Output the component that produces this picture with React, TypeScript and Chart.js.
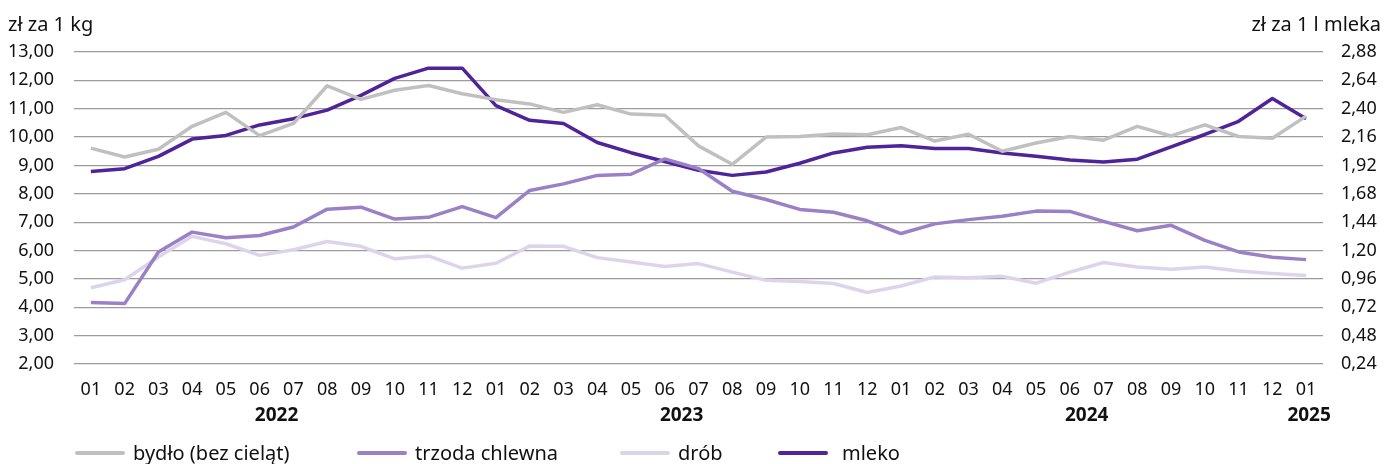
import React, { useEffect, useRef } from "react";
import { Chart, registerables } from "chart.js";

Chart.register(...registerables);

const months = [
  "01","02","03","04","05","06","07","08","09","10","11","12",
  "01","02","03","04","05","06","07","08","09","10","11","12",
  "01","02","03","04","05","06","07","08","09","10","11","12",
  "01",
];

const years = [
  { label: "2022", from: 5, to: 6 },
  { label: "2023", from: 17, to: 18 },
  { label: "2024", from: 29, to: 30 },
  { label: "2025", from: 36, to: 36 },
];

const bydlo = [
  9.61, 9.30, 9.57, 10.38, 10.87, 10.05, 10.48, 11.81, 11.33, 11.65, 11.82, 11.53,
  11.32, 11.17, 10.87, 11.14, 10.81, 10.77, 9.69, 9.04, 10.0, 10.02, 10.11, 10.08,
  10.34, 9.86, 10.10, 9.50, 9.79, 10.02, 9.89, 10.38, 10.04, 10.43, 10.02, 9.96,
  10.74,
];

const trzoda = [
  4.17, 4.13, 5.95, 6.65, 6.45, 6.53, 6.83, 7.46, 7.53, 7.11, 7.17, 7.55,
  7.16, 8.12, 8.35, 8.65, 8.69, 9.23, 8.89, 8.09, 7.80, 7.45, 7.35, 7.05,
  6.60, 6.94, 7.09, 7.21, 7.39, 7.38, 7.03, 6.70, 6.89, 6.36, 5.95, 5.76,
  5.68,
];

const drob = [
  4.69, 4.97, 5.77, 6.50, 6.24, 5.83, 6.03, 6.32, 6.15, 5.71, 5.81, 5.38,
  5.55, 6.16, 6.15, 5.75, 5.60, 5.44, 5.54, 5.24, 4.95, 4.91, 4.84, 4.52,
  4.75, 5.07, 5.04, 5.09, 4.85, 5.24, 5.58, 5.42, 5.34, 5.42, 5.28, 5.19,
  5.12,
];

const mleko = [
  1.869, 1.893, 1.997, 2.143, 2.174, 2.263, 2.316, 2.388, 2.513, 2.657, 2.743, 2.743,
  2.426, 2.302, 2.275, 2.114, 2.028, 1.954, 1.879, 1.836, 1.865, 1.939, 2.026, 2.074,
  2.086, 2.064, 2.064, 2.026, 1.997, 1.966, 1.949, 1.973, 2.078, 2.182, 2.294, 2.486,
  2.316,
];

const rightTicks = [0.24, 0.48, 0.72, 0.96, 1.2, 1.44, 1.68, 1.92, 2.16, 2.4, 2.64, 2.88];

const seriesNames = ["bydło (bez cieląt)", "trzoda chlewna", "drób", "mleko"];
const colors = ["#C0C0C0", "#9A80C6", "#DDD4EC", "#4F2399"];

const FONT = "'Noto Sans', sans-serif";

const yearPlugin = {
  id: "yearLabels",
  afterDraw(chart: any) {
    const x = chart.scales.x;
    const ctx = chart.ctx;
    ctx.save();
    ctx.font = "bold 19px " + FONT;
    ctx.fillStyle = "#111";
    ctx.textAlign = "center";
    ctx.textBaseline = "middle";
    years.forEach((y) => {
      const px = (x.getPixelForValue(y.from) + x.getPixelForValue(y.to)) / 2;
      ctx.fillText(y.label, px + (y.from === y.to ? 3 : 0), 416);
    });
    ctx.restore();
  },
};

export default function App() {
  const ref = useRef<HTMLCanvasElement>(null);

  useEffect(() => {
    const fmt = (v: any) => Number(v).toFixed(2).replace(".", ",");
    const chart = new Chart(ref.current!, {
      type: "line",
      data: {
        labels: months,
        datasets: [
          { label: seriesNames[0], data: bydlo, borderColor: colors[0], yAxisID: "y" },
          { label: seriesNames[1], data: trzoda, borderColor: colors[1], yAxisID: "y" },
          { label: seriesNames[2], data: drob, borderColor: colors[2], yAxisID: "y" },
          { label: seriesNames[3], data: mleko, borderColor: colors[3], yAxisID: "y1" },
        ].map((d) => ({
          ...d,
          borderWidth: 3.5,
          pointRadius: 0,
          tension: 0,
          fill: false,
          borderJoinStyle: "round" as const,
        })),
      },
      options: {
        responsive: false,
        animation: false,
        devicePixelRatio: 1,
        layout: { padding: { left: 0, right: 0, top: 52, bottom: 0 } },
        plugins: { legend: { display: false }, tooltip: { enabled: false } },
        scales: {
          x: {
            offset: true,
            grid: { display: false, drawTicks: false },
            border: { display: false },
            ticks: {
              autoSkip: false,
              maxRotation: 0,
              padding: 15,
              color: "#111",
              font: { family: FONT, size: 18 },
            },
            afterFit: (s: any) => {
              s.height = 100;
            },
          },
          y: {
            position: "left",
            min: 2,
            max: 13,
            ticks: {
              stepSize: 1,
              padding: 20,
              color: "#111",
              font: { family: FONT, size: 18 },
              callback: (v: any) => fmt(v),
            },
            grid: { color: "#9C9C9C", lineWidth: 1.2, drawTicks: false },
            border: { display: false },
            afterFit: (s: any) => {
              s.width = 74;
            },
          },
          y1: {
            position: "right",
            min: 0.24,
            max: 2.88,
            afterBuildTicks: (s: any) => {
              s.ticks = rightTicks.map((v) => ({ value: v }));
            },
            ticks: {
              padding: 18,
              color: "#111",
              font: { family: FONT, size: 18 },
              callback: (v: any) => fmt(v),
            },
            grid: { display: false, drawTicks: false },
            border: { display: false },
            afterFit: (s: any) => {
              s.width = 62;
            },
          },
        },
      },
      plugins: [yearPlugin],
    });
    return () => chart.destroy();
  }, []);

  const legendPos = [
    { line: 75, text: 133 },
    { line: 357, text: 415 },
    { line: 620, text: 678 },
    { line: 778, text: 842 },
  ];

  const textStyle: React.CSSProperties = {
    position: "absolute",
    fontFamily: FONT,
    fontSize: 20,
    color: "#111",
    lineHeight: "24px",
    whiteSpace: "nowrap",
  };

  return (
    <div
      style={{
        position: "fixed",
        left: 0,
        top: 0,
        width: 1385,
        height: 464,
        background: "#fff",
        overflow: "hidden",
      }}
    >
      <canvas ref={ref} width={1385} height={464} style={{ position: "absolute", left: 0, top: 0 }} />
      <div style={{ ...textStyle, left: 8, top: 12 }}>zł za 1 kg</div>
      <div style={{ ...textStyle, right: 4, top: 12 }}>zł za 1 l mleka</div>
      {seriesNames.map((name, i) => (
        <React.Fragment key={name}>
          <div
            style={{
              position: "absolute",
              left: legendPos[i].line,
              top: 451,
              width: 50,
              height: 4,
              borderRadius: 2,
              background: colors[i],
            }}
          />
          <div style={{ ...textStyle, left: legendPos[i].text, top: 441 }}>{name}</div>
        </React.Fragment>
      ))}
    </div>
  );
}
